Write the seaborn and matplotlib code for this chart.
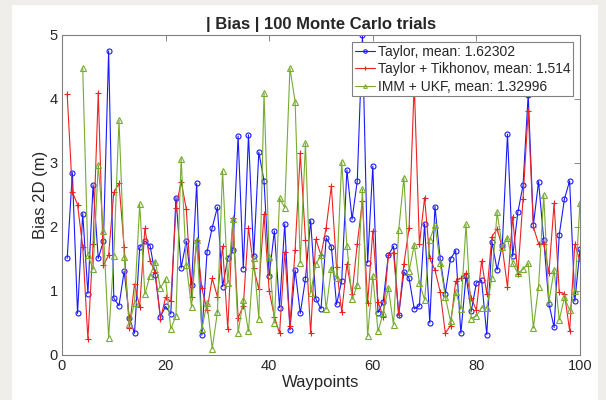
import numpy as np
import pandas as pd
import seaborn as sns
import matplotlib.pyplot as plt
from matplotlib.patches import Rectangle

# Bias per waypoint
waypoints = list(range(1, 101))

taylor = [1.51, 2.85, 0.65, 2.21, 0.96, 2.66, 1.51, 1.78, 4.75, 0.89,
          0.77, 1.31, 0.58, 0.34, 1.68, 1.78, 1.71, 1.25, 0.60, 0.76,
          0.64, 2.46, 1.36, 1.78, 1.09, 2.68, 0.31, 1.61, 1.99, 2.31,
          1.07, 1.51, 1.64, 3.42, 1.35, 3.44, 1.54, 3.17, 2.72, 1.24,
          1.94, 0.74, 2.05, 0.39, 1.33, 0.65, 1.19, 2.10, 0.88, 0.72,
          1.83, 1.69, 0.79, 1.16, 2.89, 2.12, 2.72, 5.00, 1.44, 2.95,
          0.66, 0.83, 1.56, 1.70, 0.62, 1.30, 1.20, 0.72, 0.77, 2.05,
          0.50, 2.32, 1.51, 0.96, 1.50, 1.63, 0.34, 1.24, 0.68, 1.13,
          1.17, 0.32, 1.77, 1.33, 1.72, 3.45, 1.54, 2.23, 2.65, 4.07,
          2.03, 2.71, 1.80, 0.80, 0.43, 1.88, 2.44, 2.72, 0.84, 1.65]

tikhonov = [4.08, 2.55, 2.35, 1.69, 0.25, 1.73, 4.10, 1.40, 1.56, 2.54,
            2.68, 1.69, 0.42, 1.11, 0.75, 1.98, 1.47, 1.29, 0.56, 0.90,
            0.84, 2.30, 2.71, 2.28, 0.91, 1.80, 1.04, 0.70, 1.20, 0.91,
            1.70, 0.41, 2.14, 0.58, 0.77, 1.99, 1.36, 1.03, 2.20, 1.00,
            0.60, 0.34, 1.61, 0.46, 1.64, 3.15, 1.80, 0.34, 1.81, 1.56,
            1.99, 2.64, 1.37, 0.67, 1.42, 0.95, 1.74, 2.40, 0.81, 1.94,
            0.83, 0.60, 1.56, 1.60, 0.63, 1.42, 1.98, 4.24, 1.73, 2.46,
            1.51, 1.33, 0.99, 0.34, 0.46, 1.15, 1.20, 1.28, 0.89, 0.70,
            1.47, 0.96, 1.85, 1.97, 1.68, 1.06, 2.16, 1.26, 2.44, 3.82,
            2.00, 1.74, 1.74, 1.28, 2.37, 0.98, 0.96, 0.38, 1.73, 1.47]

# IMM + UKF only starts at waypoint 4
imm_waypoints = list(range(4, 101))
imm_ukf = [4.48, 1.56, 1.34, 2.97, 1.93, 0.27, 1.55, 3.67, 1.53, 0.48,
           0.82, 2.36, 0.95, 1.24, 1.46, 1.05, 1.18, 0.41, 0.61, 3.07,
           1.41, 0.75, 1.80, 0.41, 0.81, 0.10, 0.67, 2.88, 1.12, 2.12,
           0.35, 0.86, 0.37, 1.51, 0.57, 4.10, 1.53, 0.50, 2.45, 2.30,
           4.48, 3.96, 1.44, 3.31, 0.97, 1.42, 1.56, 0.72, 1.35, 1.20,
           3.02, 1.71, 0.87, 1.09, 2.59, 0.29, 1.24, 0.37, 0.65, 1.05,
           0.47, 1.95, 2.77, 1.31, 1.72, 1.13, 0.86, 1.80, 2.03, 1.43,
           0.91, 0.53, 0.99, 0.72, 2.04, 0.57, 0.61, 0.74, 0.74, 1.21,
           2.23, 1.68, 1.83, 1.43, 1.28, 1.34, 1.43, 0.42, 1.07, 2.50,
           0.83, 1.33, 0.55, 0.90, 0.70, 1.00, 2.38]

labels = ["Taylor, mean: 1.62302",
          "Taylor + Tikhonov, mean: 1.514",
          "IMM + UKF, mean: 1.32996"]

sns.set_style("white")
plt.rcParams['font.family'] = ['Liberation Sans', 'DejaVu Sans']

fig = plt.figure(figsize=(6.06, 4.0), dpi=100, facecolor='#f0eeea')
fig.patches.append(Rectangle((12/606, 0), 586/606, 395/400, transform=fig.transFigure,
                             facecolor='white', edgecolor='none', zorder=-10))
ax = fig.add_axes([62/606, 45/400, 518/606, 320/400])
ax.set_zorder(1)

blue = '#1a1aff'
red = '#ee2222'
green = '#77ac30'

sns.lineplot(x=waypoints, y=taylor, ax=ax, color=blue, lw=0.8, marker='o', ms=3.6,
             markerfacecolor='none', markeredgecolor=blue, markeredgewidth=0.8,
             label=labels[0])
sns.lineplot(x=waypoints, y=tikhonov, ax=ax, color=red, lw=0.8, marker='+', ms=4.5,
             markeredgecolor=red, markeredgewidth=0.8, label=labels[1])
sns.lineplot(x=imm_waypoints, y=imm_ukf, ax=ax, color=green, lw=0.8, marker='^', ms=3.8,
             markerfacecolor='none', markeredgecolor=green, markeredgewidth=0.8,
             label=labels[2])

ax.set_xlim(0, 100)
ax.set_ylim(0, 5)
ax.set_xticks([0, 20, 40, 60, 80, 100])
ax.set_yticks([0, 1, 2, 3, 4, 5])
ax.tick_params(direction='in', length=4, width=0.6, color='#777777',
               labelsize=10.5, top=True, right=True, pad=3)
for s in ax.spines.values():
    s.set_color('#808080')
    s.set_linewidth(0.8)

ax.set_xlabel("Waypoints", fontsize=12, labelpad=1)
ax.set_ylabel("Bias 2D (m)", fontsize=12)
ax.yaxis.set_label_coords(-0.027, 0.5)
ax.set_title("| Bias | 100 Monte Carlo trials", fontsize=12, fontweight='bold', pad=4)

leg = ax.legend(loc='upper right', fontsize=10, frameon=True, fancybox=False,
                edgecolor='#808080', framealpha=1, borderpad=0.2, labelspacing=0.25,
                handlelength=1.45, handletextpad=0.2, borderaxespad=0.5, markerscale=0.7)
leg.get_frame().set_linewidth(0.8)

fig.savefig("out.png", dpi=100, facecolor=fig.get_facecolor())
